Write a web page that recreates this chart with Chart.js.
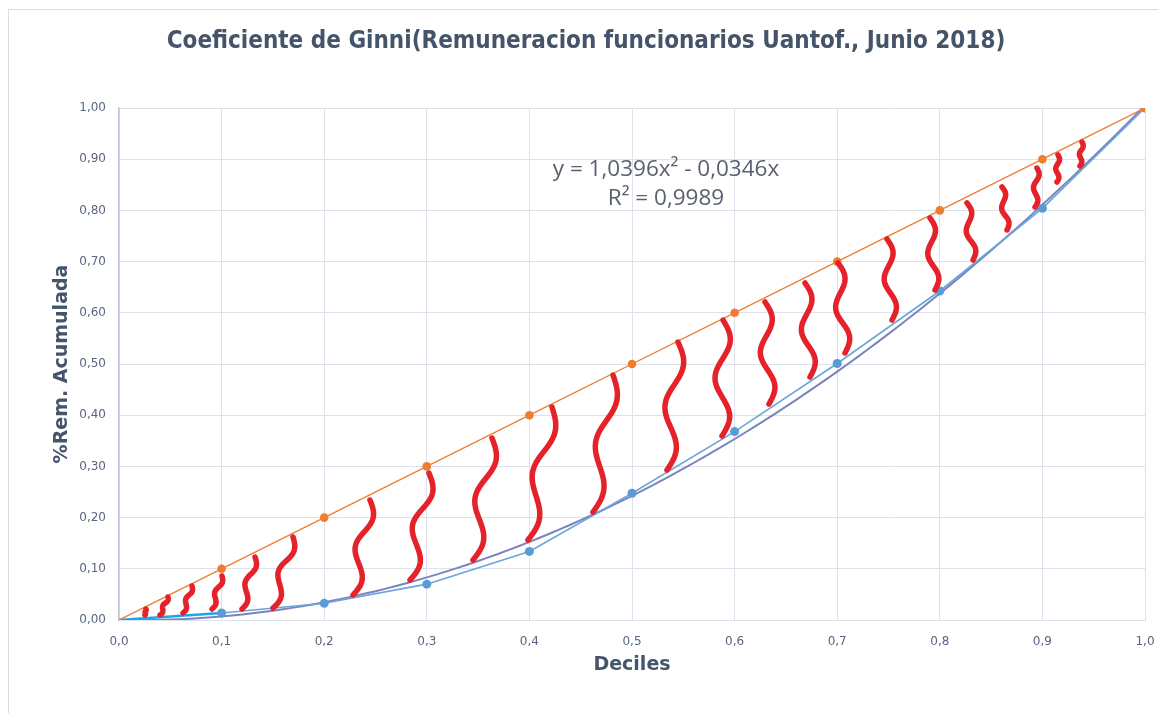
<!DOCTYPE html>
<html>
<head>
<meta charset="utf-8">
<title>Coeficiente de Ginni</title>
<script src="https://cdn.jsdelivr.net/npm/chart.js@4/dist/chart.umd.min.js"></script>
<style>
  html, body { margin: 0; padding: 0; background: #ffffff; }
  #wrap { position: relative; width: 1158px; height: 713px; }
</style>
</head>
<body>
<div id="wrap"><canvas id="chart" width="1158" height="713"></canvas></div>
<script>
// Deciles of staff and cumulative share of pay
const deciles = [0.1, 0.2, 0.3, 0.4, 0.5, 0.6, 0.7, 0.8, 0.9, 1.0];
const equalShare = [0.1, 0.2, 0.3, 0.4, 0.5, 0.6, 0.7, 0.8, 0.9, 1.0];
const remShare = [0.0137, 0.0326, 0.0700, 0.1340, 0.2475, 0.3680, 0.5010, 0.6426, 0.8040, 1.0];

// Polynomial trend line as printed on the chart: y = 1,0396x² - 0,0346x
const trendCoefs = [0, -0.0346, 1.0396];
const trendLabel = ['y = 1,0396x\u00B2 - 0,0346x', 'R\u00B2 = 0,9989'];

// Axis tick labels
const xTickLabels = ['0,0', '0,1', '0,2', '0,3', '0,4', '0,5', '0,6', '0,7', '0,8', '0,9', '1,0'];
const yTickLabels = ['0,00', '0,10', '0,20', '0,30', '0,40', '0,50', '0,60', '0,70', '0,80', '0,90', '1,00'];

// Hand-drawn red strokes marking the gap between the two curves (top and bottom ends)
const waveTopX    = [0.0263, 0.0478, 0.0712, 0.1004, 0.1326, 0.1696, 0.2446, 0.3021, 0.3635, 0.4220, 0.4815, 0.5448, 0.5887, 0.6296, 0.6686, 0.7008, 0.7485, 0.7904, 0.8265, 0.8606, 0.8947, 0.9152, 0.9386];
const waveTopY    = [0.0215, 0.0449, 0.0664, 0.0859, 0.1230, 0.1621, 0.2344, 0.2871, 0.3555, 0.4160, 0.4785, 0.5430, 0.5859, 0.6211, 0.6582, 0.6973, 0.7441, 0.7852, 0.8145, 0.8457, 0.8828, 0.9082, 0.9336];
const waveBottomX = [0.0253, 0.0400, 0.0624, 0.0906, 0.1199, 0.1501, 0.2281, 0.2836, 0.3450, 0.3986, 0.4620, 0.5341, 0.5877, 0.6335, 0.6735, 0.7076, 0.7534, 0.7953, 0.8324, 0.8655, 0.8928, 0.9142, 0.9366];
const waveBottomY = [0.0098, 0.0098, 0.0137, 0.0215, 0.0215, 0.0234, 0.0488, 0.0781, 0.1172, 0.1563, 0.2109, 0.2930, 0.3594, 0.4219, 0.4746, 0.5215, 0.5859, 0.6445, 0.7031, 0.7617, 0.8066, 0.8555, 0.8867];

const TITLE = 'Coeficiente de Ginni(Remuneracion funcionarios Uantof., Junio 2018)';
const X_TITLE = 'Deciles';
const Y_TITLE = '%Rem. Acumulada';

const pts = (xs, ys) => [{ x: 0, y: 0 }].concat(xs.map((x, i) => ({ x: x, y: ys[i] })));

const trendPoints = [];
for (let k = 0; k <= 100; k++) {
  const x = k / 100;
  trendPoints.push({ x: x, y: trendCoefs[0] + trendCoefs[1] * x + trendCoefs[2] * x * x });
}

// Frame, titles and the trend-line equation
const decorPlugin = {
  id: 'decor',
  beforeDraw(chart) {
    const ctx = chart.ctx;
    ctx.save();
    ctx.fillStyle = '#ffffff';
    ctx.fillRect(0, 0, chart.width, chart.height);
    ctx.strokeStyle = '#d9dce2';
    ctx.lineWidth = 1;
    ctx.strokeRect(8.5, 9.5, chart.width + 10, chart.height + 10);
    ctx.restore();
  },
  afterDraw(chart) {
    const ctx = chart.ctx;
    const area = chart.chartArea;
    ctx.save();
    ctx.fillStyle = '#44546a';
    ctx.textAlign = 'center';
    ctx.textBaseline = 'middle';
    ctx.font = 'bold 24px "Liberation Sans Narrow", "DejaVu Sans Condensed", "Liberation Sans", sans-serif';
    ctx.fillText(TITLE, 586, 42);

    ctx.font = 'bold 19px "DejaVu Sans", sans-serif';
    ctx.fillText(X_TITLE, (area.left + area.right) / 2, 665);

    ctx.save();
    ctx.translate(62, (area.top + area.bottom) / 2);
    ctx.rotate(-Math.PI / 2);
    ctx.fillText(Y_TITLE, 0, 0);
    ctx.restore();

    ctx.fillStyle = '#5a6070';
    ctx.font = '22.5px "Open Sans", sans-serif';
    ctx.fillText(trendLabel[0], 666, 170);
    ctx.fillText(trendLabel[1], 666, 199);
    ctx.restore();
  }
};

// Red wavy strokes, positioned through the chart scales
const wavePlugin = {
  id: 'waves',
  afterDatasetsDraw(chart) {
    const xs = chart.scales.x, ys = chart.scales.y;
    const ctx = chart.ctx;
    ctx.save();
    ctx.strokeStyle = '#e52229';
    ctx.lineWidth = 5.5;
    ctx.lineCap = 'round';
    ctx.lineJoin = 'round';
    for (let i = 0; i < waveTopX.length; i++) {
      const x0 = xs.getPixelForValue(waveTopX[i]);
      const y0 = ys.getPixelForValue(waveTopY[i]);
      const x1 = xs.getPixelForValue(waveBottomX[i]);
      const y1 = ys.getPixelForValue(waveBottomY[i]);
      const len = Math.hypot(x1 - x0, y1 - y0);
      const amp = Math.min(7.5, len * 0.065);
      const nx = (y1 - y0) / len, ny = -(x1 - x0) / len;
      ctx.beginPath();
      const steps = 40;
      for (let s = 0; s <= steps; s++) {
        const t = s / steps;
        const off = amp * Math.sin(3 * Math.PI * t);
        const px = x0 + (x1 - x0) * t + nx * off;
        const py = y0 + (y1 - y0) * t + ny * off;
        if (s === 0) ctx.moveTo(px, py); else ctx.lineTo(px, py);
      }
      ctx.stroke();
    }
    ctx.restore();
  }
};

const tickFont = { family: '"DejaVu Sans", sans-serif', size: 12 };
const tickColor = '#596680';

new Chart(document.getElementById('chart'), {
  type: 'scatter',
  data: {
    datasets: [
      {
        label: 'Igualdad',
        data: pts(deciles, equalShare),
        showLine: true,
        borderColor: '#ed7d31',
        backgroundColor: '#ed7d31',
        borderWidth: 1.3,
        pointRadius: ctx => (ctx.dataIndex === 0 ? 0 : 4.3),
        pointBorderWidth: 0,
        order: 1
      },
      {
        label: 'Rem. acumulada',
        data: pts(deciles, remShare),
        showLine: true,
        borderColor: '#6aa5dc',
        backgroundColor: '#5b9bd5',
        borderWidth: 1.6,
        pointRadius: ctx => (ctx.dataIndex === 0 ? 0 : 4.5),
        pointBorderWidth: 0,
        segment: {
          borderColor: ctx => (ctx.p0DataIndex === 0 ? '#1fa3ea' : undefined),
          borderWidth: ctx => (ctx.p0DataIndex === 0 ? 2.5 : undefined)
        },
        order: 2
      },
      {
        label: 'Polinómica',
        data: trendPoints,
        showLine: true,
        borderColor: '#7a84bd',
        borderWidth: 2,
        pointRadius: 0,
        order: 3
      }
    ]
  },
  options: {
    responsive: false,
    animation: false,
    layout: { padding: { left: 0, right: 0, top: 108, bottom: 0 } },
    plugins: {
      legend: { display: false },
      tooltip: { enabled: false },
      title: { display: false }
    },
    scales: {
      x: {
        type: 'linear',
        min: 0, max: 1,
        afterFit: s => { s.height = 93; s.paddingRight = 13; s.paddingLeft = 0; },
        afterBuildTicks: s => { s.ticks = xTickLabels.map((_, i) => ({ value: i / 10 })); },
        ticks: {
          callback: (v, i) => xTickLabels[i],
          font: tickFont, color: tickColor, padding: 15, maxRotation: 0, autoSkip: false
        },
        grid: { color: '#dde2ea', lineWidth: 1, drawTicks: false },
        border: { color: '#dde2ea', width: 1 }
      },
      y: {
        type: 'linear',
        min: 0, max: 1,
        afterFit: s => { s.width = 119; s.paddingTop = 0; s.paddingBottom = 0; },
        afterBuildTicks: s => { s.ticks = yTickLabels.map((_, i) => ({ value: i / 10 })); },
        ticks: {
          callback: (v, i) => yTickLabels[i],
          font: tickFont, color: tickColor, padding: 13, autoSkip: false
        },
        grid: { color: '#dde2ea', lineWidth: 1, drawTicks: false },
        border: { color: '#bcc6d4', width: 1.5 }
      }
    }
  },
  plugins: [decorPlugin, wavePlugin]
});
</script>
</body>
</html>
